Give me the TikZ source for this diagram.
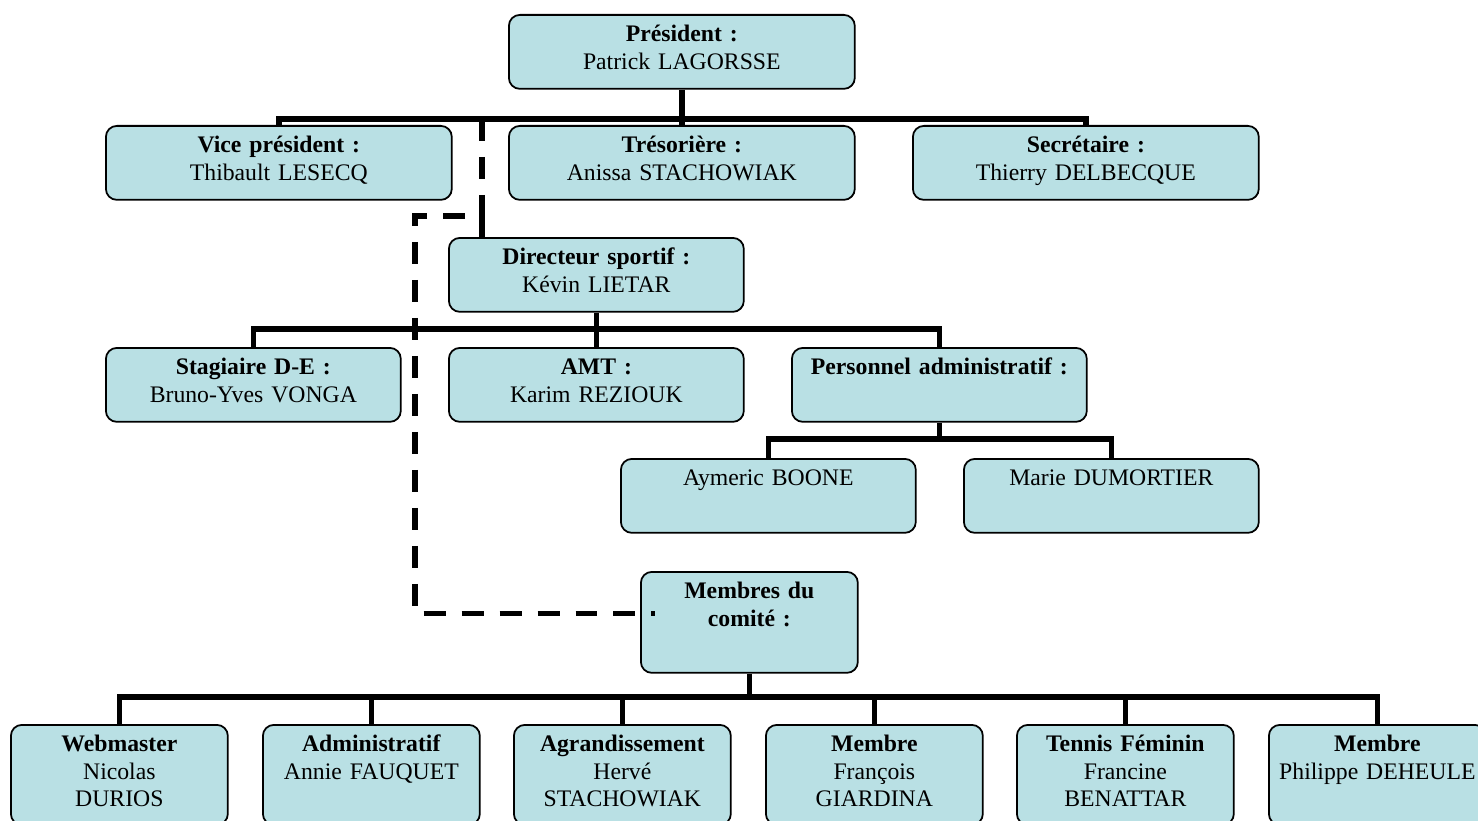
\documentclass[tikz,border=0pt]{standalone}
\usepackage{fontspec}
\setmainfont{Liberation Serif}
\definecolor{boxfill}{RGB}{185,224,228}
\tikzset{
    orgbox/.style={draw, line width=1pt, rounded corners=0.22cm, fill=boxfill,
        anchor=north west, align=center, inner xsep=0pt, inner ysep=0pt,
        text height=0.54cm, font=\fontsize{13.5}{15.6}\selectfont},
    widebox/.style={orgbox, text width=6.92cm, text depth=0.94cm},
    midbox/.style={orgbox, text width=5.9cm, text depth=0.94cm},
    smallbox/.style={orgbox, text width=4.34cm, text depth=1.46cm},
    link/.style={line width=3.1pt},
    dashlink/.style={link, dash pattern=on 0.44cm off 0.32cm}
}
\begin{document}
\begin{tikzpicture}[x=0.02cm, y=-0.02cm]
    \useasboundingbox (0,0) rectangle (1478,821);

    \coordinate (bus1) at (0,119);
    \coordinate (bus2) at (0,329);
    \coordinate (bus3) at (0,439);
    \coordinate (bus4) at (0,697);
    \coordinate (dcorner) at (482,216);
    \coordinate (dleft) at (415,216);

    \node[widebox] (pres) at (508,14) {\textbf{Président :}\\ Patrick LAGORSSE};
    \node[widebox] (vice) at (105,125) {\textbf{Vice président :}\\ Thibault LESECQ};
    \node[widebox] (treso) at (508,125) {\textbf{Trésorière :}\\ Anissa STACHOWIAK};
    \node[widebox] (secr) at (912,125) {\textbf{Secrétaire :}\\ Thierry DELBECQUE};

    \node[midbox] (dir) at (448,237) {\textbf{Directeur sportif :}\\ Kévin LIETAR};
    \node[midbox] (stag) at (105,347) {\textbf{Stagiaire D-E :}\\ Bruno-Yves VONGA};
    \node[midbox] (amt) at (448,347) {\textbf{AMT :}\\ Karim REZIOUK};
    \node[midbox] (perso) at (791,347) {\textbf{Personnel administratif :}};
    \node[midbox] (boone) at (620,458) {Aymeric BOONE};
    \node[midbox] (dumort) at (963,458) {Marie DUMORTIER};

    \node[smallbox, text depth=1.48cm] (comite) at (640,571) {\textbf{Membres du}\\ \textbf{comité :}};
    \node[smallbox] (web) at (10,724) {\textbf{Webmaster}\\ Nicolas\\ DURIOS};
    \node[smallbox] (admin) at (262,724) {\textbf{Administratif}\\ Annie FAUQUET};
    \node[smallbox] (agrand) at (513,724) {\textbf{Agrandissement}\\ Hervé\\ STACHOWIAK};
    \node[smallbox] (memb1) at (765,724) {\textbf{Membre}\\ François\\ GIARDINA};
    \node[smallbox] (tennis) at (1016,724) {\textbf{Tennis Féminin}\\ Francine\\ BENATTAR};
    \node[smallbox] (memb2) at (1268,724) {\textbf{Membre}\\ Philippe DEHEULE};

    \draw[link] (pres.south) -- (treso.north);
    \draw[link] (vice.north) -- (vice.north |- bus1) -- (secr.north |- bus1) -- (secr.north);

    \draw[link] (dcorner) -- (dcorner |- dir.north);
    \draw[link] (dir.south) -- (amt.north);
    \draw[link] (stag.north) -- (stag.north |- bus2) -- (perso.north |- bus2) -- (perso.north);

    \draw[link] (perso.south) -- (perso.south |- bus3);
    \draw[link] (boone.north) -- (boone.north |- bus3) -- (dumort.north |- bus3) -- (dumort.north);

    \draw[link] (comite.south) -- (comite.south |- bus4);
    \draw[link] (web.north) -- (web.north |- bus4) -- (memb2.north |- bus4) -- (memb2.north);
    \foreach \b in {admin, agrand, memb1, tennis}
        \draw[link] (\b.north) -- (\b.north |- bus4);

    \draw[dashlink] (dcorner |- bus1) -- (dcorner) -- (dleft)
        |- ([xshift=0.3cm, yshift=0.18cm]comite.west);
\end{tikzpicture}
\end{document}
